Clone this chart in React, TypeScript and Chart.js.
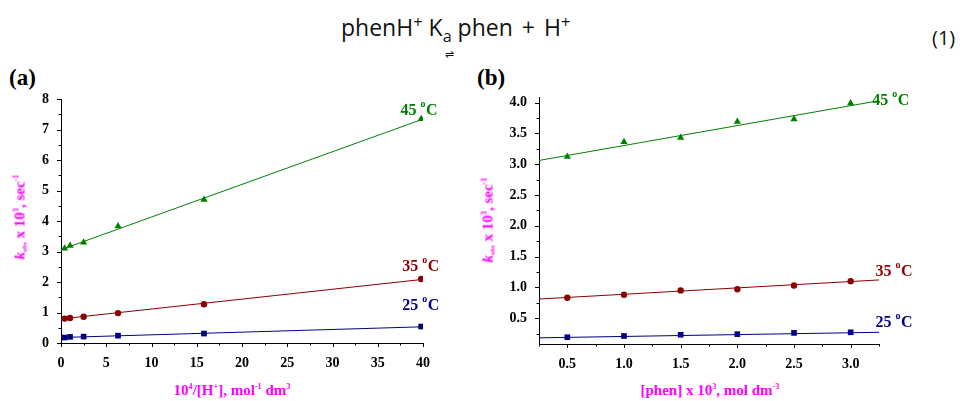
import React, { useEffect, useRef } from 'react';
import { Chart, registerables } from 'chart.js';

Chart.register(...registerables);

const SERIF = '"Liberation Serif", "Times New Roman", serif';
const SANS = '"Open Sans", "Noto Sans", sans-serif';
const GREEN = '#008000';
const RED = '#8b0000';
const BLUE = '#000080';
const MAGENTA = '#ff00ff';

const tempNames = ['25', '35', '45'];

// ---- Panel (a): k_obs vs 10^4/[H+]
const invH = [0.4, 1.0, 2.5, 6.3, 15.8, 39.8];
const k25A = [0.18, 0.2, 0.21, 0.24, 0.31, 0.54];
const k35A = [0.8, 0.82, 0.86, 0.98, 1.27, 2.1];
const k45A = [3.1, 3.19, 3.3, 3.83, 4.7, 7.35];
const fitXA = [0, 39.8];
const fit25A = [0.18, 0.53];
const fit35A = [0.79, 2.08];
const fit45A = [3.06, 7.32];
const xTicksA = [0, 5, 10, 15, 20, 25, 30, 35, 40];
const xMinorA = [2.5, 7.5, 12.5, 17.5, 22.5, 27.5, 32.5, 37.5];
const yTicksA = [0, 1, 2, 3, 4, 5, 6, 7, 8];
const yMinorA = [0.5, 1.5, 2.5, 3.5, 4.5, 5.5, 6.5, 7.5];

// ---- Panel (b): k_obs vs [phen]
const phen = [0.5, 1.0, 1.5, 2.0, 2.5, 3.0];
const k25B = [0.19, 0.21, 0.23, 0.24, 0.26, 0.27];
const k35B = [0.83, 0.88, 0.95, 0.97, 1.03, 1.1];
const k45B = [3.12, 3.36, 3.43, 3.69, 3.73, 3.99];
const fitXB = [0.25, 3.25];
const fit25B = [0.18, 0.27];
const fit35B = [0.81, 1.12];
const fit45B = [3.06, 4.03];
const xTicksB = [0.5, 1.0, 1.5, 2.0, 2.5, 3.0];
const xMinorB = [0.25, 0.75, 1.25, 1.75, 2.25, 2.75, 3.25];
const yTicksB = [0.5, 1.0, 1.5, 2.0, 2.5, 3.0, 3.5, 4.0];
const yMinorB = [0.25, 0.75, 1.25, 1.75, 2.25, 2.75, 3.25, 3.75];

type LabelItem = { text: string; x: number; y: number; color: string };

function ticksPlugin(xMajor: number[], xMinor: number[], yMajor: number[], yMinor: number[]) {
  return {
    id: 'customTicks',
    afterDraw(chart: any) {
      const ctx = chart.ctx;
      const { x, y } = chart.scales;
      const area = chart.chartArea;
      ctx.save();
      ctx.strokeStyle = '#000';
      ctx.lineWidth = 1;
      const dx = (vals: number[], len: number) =>
        vals.forEach((v) => {
          const px = Math.round(x.getPixelForValue(v)) + 0.5;
          ctx.beginPath();
          ctx.moveTo(px, area.bottom);
          ctx.lineTo(px, area.bottom + len);
          ctx.stroke();
        });
      const dy = (vals: number[], len: number) =>
        vals.forEach((v) => {
          const py = Math.round(y.getPixelForValue(v)) + 0.5;
          ctx.beginPath();
          ctx.moveTo(area.left, py);
          ctx.lineTo(area.left - len, py);
          ctx.stroke();
        });
      dx(xMajor, 4);
      dx(xMinor, 2.5);
      dy(yMajor, 4);
      dy(yMinor, 2.5);
      ctx.restore();
    },
  };
}

function labelsPlugin(items: LabelItem[]) {
  return {
    id: 'tempLabels',
    afterDraw(chart: any) {
      const ctx = chart.ctx;
      const { x, y } = chart.scales;
      ctx.save();
      ctx.textAlign = 'left';
      ctx.textBaseline = 'alphabetic';
      items.forEach((it) => {
        const px = x.getPixelForValue(it.x);
        const py = y.getPixelForValue(it.y);
        ctx.fillStyle = it.color;
        ctx.font = `bold 16px ${SERIF}`;
        ctx.fillText(it.text, px, py);
        let w = ctx.measureText(it.text + ' ').width;
        ctx.font = `bold 10px ${SERIF}`;
        ctx.fillText('o', px + w, py - 8);
        w += ctx.measureText('o').width + 0.5;
        ctx.font = `bold 16px ${SERIF}`;
        ctx.fillText('C', px + w, py);
      });
      ctx.restore();
    },
  };
}

const pts = (xs: number[], ys: number[]) => xs.map((v, i) => ({ x: v, y: ys[i] }));

function makeDatasets(xs: number[], fx: number[], ser: number[][], fits: number[][]) {
  const colors = [BLUE, RED, GREEN];
  const styles = ['rect', 'circle', 'triangle'];
  const radii = [4, 3.2, 4.2];
  const out: any[] = [];
  ser.forEach((ys, i) => {
    out.push({
      label: tempNames[i] + ' fit',
      data: pts(fx, fits[i]),
      showLine: true,
      borderColor: colors[i],
      borderWidth: 1,
      pointRadius: 0,
      fill: false,
    });
    out.push({
      label: tempNames[i] + ' °C',
      data: pts(xs, ys),
      showLine: false,
      backgroundColor: colors[i],
      borderColor: colors[i],
      borderWidth: 0,
      pointStyle: styles[i],
      pointRadius: radii[i],
    });
  });
  return out;
}

function axis(min: number, max: number, ticks: number[], fmt: (v: number) => string, size: number, isX: boolean, pad: number) {
  return {
    type: 'linear',
    min,
    max,
    afterBuildTicks: (s: any) => {
      s.ticks = ticks.map((v) => ({ value: v }));
    },
    ticks: {
      font: { family: SERIF, weight: 'bold', size: 14 },
      color: '#000',
      padding: pad,
      autoSkip: false,
      maxRotation: 0,
      callback: (v: any) => fmt(Number(v)),
    },
    grid: { display: false, drawTicks: false },
    border: { display: true, color: '#000', width: 1 },
    afterFit: (s: any) => {
      if (isX) s.height = size;
      else s.width = size;
      s.paddingLeft = 0;
      s.paddingRight = 0;
      s.paddingTop = 0;
      s.paddingBottom = 0;
    },
  };
}

function Panel(props: { cfg: any; left: number; top: number; width: number; height: number }) {
  const ref = useRef<HTMLCanvasElement | null>(null);
  useEffect(() => {
    if (!ref.current) return;
    const chart = new Chart(ref.current, props.cfg);
    return () => chart.destroy();
  }, []);
  return (
    <div style={{ position: 'absolute', left: props.left, top: props.top, width: props.width, height: props.height }}>
      <canvas ref={ref} width={props.width} height={props.height} />
    </div>
  );
}

const cfgA = {
  type: 'scatter',
  data: {
    datasets: makeDatasets(invH, fitXA, [k25A, k35A, k45A], [fit25A, fit35A, fit45A]),
  },
  options: {
    animation: false,
    responsive: false,
    layout: { padding: { left: 0, right: 47, top: 19, bottom: 0 } },
    plugins: { legend: { display: false }, tooltip: { enabled: false } },
    scales: {
      x: axis(0, 40, xTicksA, (v) => String(v), 37, true, 12),
      y: axis(0, 8, yTicksA, (v) => String(v), 61, false, 12),
    },
  },
  plugins: [
    ticksPlugin(xTicksA, xMinorA, yTicksA, yMinorA),
    labelsPlugin([
      { text: tempNames[2], x: 37.5, y: 7.49, color: GREEN },
      { text: tempNames[1], x: 37.7, y: 2.37, color: RED },
      { text: tempNames[0], x: 37.7, y: 1.07, color: BLUE },
    ]),
  ],
};

const cfgB = {
  type: 'scatter',
  data: {
    datasets: makeDatasets(phen, fitXB, [k25B, k35B, k45B], [fit25B, fit35B, fit45B]),
  },
  options: {
    animation: false,
    responsive: false,
    layout: { padding: { left: 0, right: 71, top: 17, bottom: 0 } },
    plugins: { legend: { display: false }, tooltip: { enabled: false } },
    scales: {
      x: axis(0.25, 3.25, xTicksB, (v) => v.toFixed(1), 36, true, 12),
      y: axis(0.08, 4.09, yTicksB, (v) => v.toFixed(1), 59, false, 12),
    },
  },
  plugins: [
    ticksPlugin(xTicksB, xMinorB, yTicksB, yMinorB),
    labelsPlugin([
      { text: tempNames[2], x: 3.19, y: 3.96, color: GREEN },
      { text: tempNames[1], x: 3.22, y: 1.18, color: RED },
      { text: tempNames[0], x: 3.22, y: 0.36, color: BLUE },
    ]),
  ],
};

const supS = (t: string, size = '0.55em', top = '-0.75em') => (
  <span style={{ fontSize: size, position: 'relative', top }}>{t}</span>
);

const axTitle: React.CSSProperties = {
  position: 'absolute',
  fontFamily: SERIF,
  fontWeight: 'bold',
  fontSize: 15,
  lineHeight: 1,
  color: MAGENTA,
  whiteSpace: 'nowrap',
};

function YTitle(props: { cx: number; cy: number }) {
  return (
    <div
      style={{
        ...axTitle,
        left: props.cx,
        top: props.cy,
        transform: 'translate(-50%, -50%) rotate(-90deg)',
      }}
    >
      <i>k</i>
      <span style={{ fontSize: '0.45em', position: 'relative', top: '0.35em' }}>obs</span> x 10{supS('3')}, sec{supS('-1')}
    </div>
  );
}

export default function App() {
  return (
    <div style={{ position: 'absolute', left: 0, top: 0, width: 960, height: 401, background: '#fff', overflow: 'hidden' }}>
      <div style={{ position: 'absolute', left: 341, top: 15.5, fontFamily: SANS, fontSize: 23, lineHeight: 1, whiteSpace: 'nowrap', color: '#111' }}>
        phenH{supS('+', '0.72em', '-0.48em')} K
        <span style={{ fontSize: '0.7em', position: 'relative', top: '0.38em' }}>a</span> phen
        <span style={{ margin: '0 3px' }}> + </span>H{supS('+', '0.72em', '-0.48em')}
      </div>
      <div style={{ position: 'absolute', left: 445, top: 48, fontFamily: SANS, fontSize: 11, lineHeight: 1, color: '#111' }}>⇌</div>
      <div style={{ position: 'absolute', left: 932, top: 28, fontFamily: SANS, fontSize: 20, lineHeight: 1, color: '#111' }}>(1)</div>

      <div style={{ position: 'absolute', left: 9, top: 66, fontFamily: SERIF, fontWeight: 'bold', fontSize: 23, lineHeight: 1 }}>(a)</div>
      <div style={{ position: 'absolute', left: 477, top: 66, fontFamily: SERIF, fontWeight: 'bold', fontSize: 23, lineHeight: 1 }}>(b)</div>

      <Panel cfg={cfgA} left={0} top={80} width={470} height={300} />
      <Panel cfg={cfgB} left={480} top={80} width={470} height={300} />

      <YTitle cx={20} cy={217} />
      <YTitle cx={488} cy={220} />

      <div style={{ ...axTitle, left: 232, top: 383, transform: 'translateX(-50%)' }}>
        10{supS('4')}/[H{supS('+')}], mol{supS('-1')} dm{supS('3')}
      </div>
      <div style={{ ...axTitle, left: 710, top: 383, transform: 'translateX(-50%)' }}>
        [phen] x 10{supS('3')}, mol dm{supS('-3')}
      </div>
    </div>
  );
}
